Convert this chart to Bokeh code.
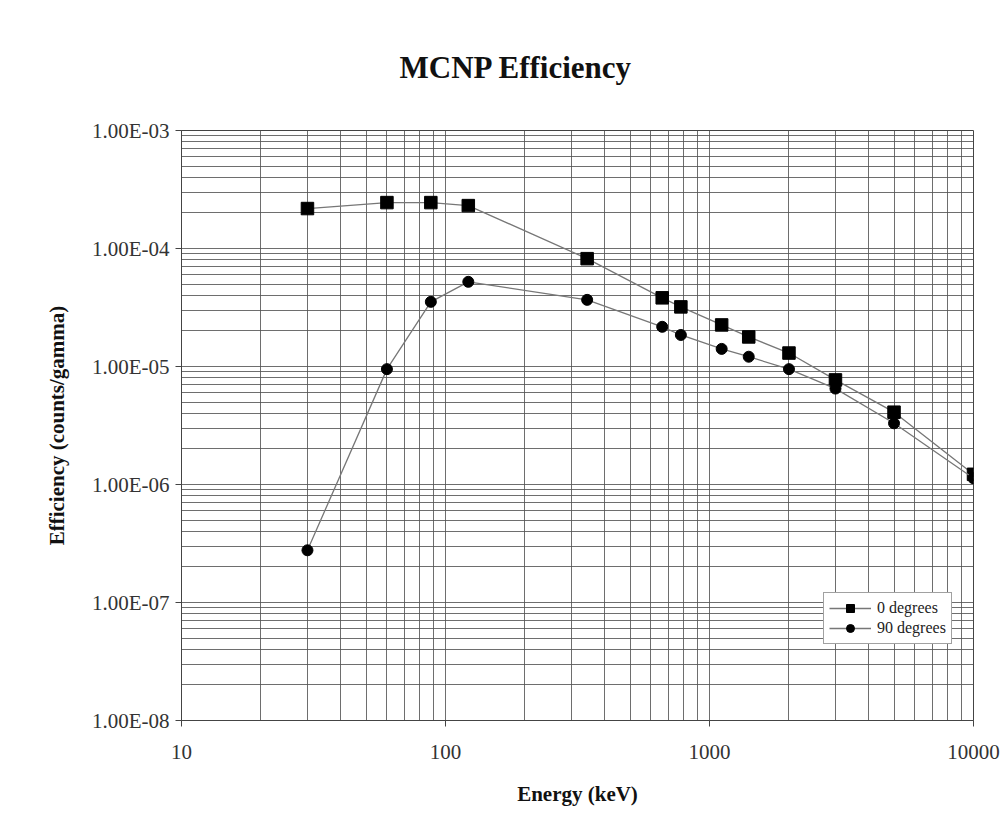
from bokeh.plotting import figure
from bokeh.models import (FixedTicker, CustomJSTickFormatter, Legend, LegendItem, Title)
from bokeh.embed import file_html
from bokeh.resources import INLINE

# ---- data ----
energy_kev = [30, 60, 88, 122, 344, 662, 779, 1112, 1408, 2000, 3000, 5000, 10000]
eff_0deg = [2.18e-4, 2.45e-4, 2.45e-4, 2.31e-4, 8.2e-5, 3.82e-5, 3.2e-5, 2.25e-5,
            1.78e-5, 1.30e-5, 7.7e-6, 4.1e-6, 1.22e-6]
eff_90deg = [2.77e-7, 9.5e-6, 3.53e-5, 5.22e-5, 3.67e-5, 2.17e-5, 1.85e-5, 1.41e-5,
             1.21e-5, 9.5e-6, 6.5e-6, 3.3e-6, 1.13e-6]

x_ticks = [10, 100, 1000, 10000]
x_tick_labels = ["10", "100", "1000", "10000"]
y_ticks = [1e-8, 1e-7, 1e-6, 1e-5, 1e-4, 1e-3]
y_tick_labels = ["1.00E-08", "1.00E-07", "1.00E-06", "1.00E-05", "1.00E-04", "1.00E-03"]

series_names = ["0 degrees", "90 degrees"]

SERIF = "Liberation Serif"

p = figure(
    x_axis_type="log", y_axis_type="log",
    x_range=(10, 10000), y_range=(1e-8, 1e-3),
    frame_width=792, frame_height=590,
    min_border_left=181, min_border_right=34,
    min_border_top=130, min_border_bottom=107,
    output_backend="svg", toolbar_location=None,
    background_fill_color="white", border_fill_color="white",
)

# title
t = Title(text="MCNP Efficiency", align="left", offset=218,
          text_font=SERIF, text_font_size="31px", text_font_style="bold",
          text_color="#111111", standoff=92)
p.title = t

# minor positions (2..9 per decade) for grids
def minors(lo_exp, hi_exp):
    out = []
    for e in range(lo_exp, hi_exp):
        for m in range(2, 10):
            out.append(m * 10.0 ** e)
    return out

x_ticker = FixedTicker(ticks=x_ticks, minor_ticks=minors(1, 4))
y_ticker = FixedTicker(ticks=y_ticks, minor_ticks=minors(-8, -3))

fmt_code = """
const i = tvals.findIndex(t => Math.abs(Math.log10(t) - Math.log10(tick)) < 1e-6);
return i >= 0 ? tlabels[i] : "";
"""
p.xaxis.ticker = x_ticker
p.yaxis.ticker = y_ticker
p.xgrid.ticker = x_ticker
p.ygrid.ticker = y_ticker
p.xaxis.formatter = CustomJSTickFormatter(args=dict(tvals=x_ticks, tlabels=x_tick_labels), code=fmt_code)
p.yaxis.formatter = CustomJSTickFormatter(args=dict(tvals=y_ticks, tlabels=y_tick_labels), code=fmt_code)

for ax in (p.xaxis, p.yaxis):
    ax.major_label_text_font = SERIF
    ax.major_label_text_font_size = "21px"
    ax.major_label_text_color = "#333333"
    ax.axis_label_text_font = SERIF
    ax.axis_label_text_font_size = "21px"
    ax.axis_label_text_font_style = "bold"
    ax.axis_label_text_color = "#111111"
    ax.axis_line_color = "#444444"
    ax.major_tick_line_color = "#444444"
    ax.major_tick_out = 6
    ax.major_tick_in = 0
    ax.minor_tick_out = 0
    ax.minor_tick_in = 0

p.xaxis.axis_label = "Energy (keV)"
p.yaxis.axis_label = "Efficiency (counts/gamma)"
p.xaxis.major_label_standoff = 18
p.yaxis.major_label_standoff = 6
p.xaxis.axis_label_standoff = 20
p.yaxis.axis_label_standoff = 20

for g in (p.xgrid, p.ygrid):
    g.grid_line_color = "#555555"
    g.grid_line_width = 1
    g.grid_line_alpha = 0.85
    g.minor_grid_line_color = "#555555"
    g.minor_grid_line_width = 1
    g.minor_grid_line_alpha = 0.85

p.outline_line_color = "#444444"

# series
l0 = p.line(energy_kev, eff_0deg, line_color="#777777", line_width=1.3)
s0 = p.scatter(energy_kev, eff_0deg, marker="square", size=12.5,
               fill_color="black", line_color="black")
l1 = p.line(energy_kev, eff_90deg, line_color="#777777", line_width=1.3)
s1 = p.scatter(energy_kev, eff_90deg, marker="circle", size=11,
               fill_color="black", line_color="black")

legend = Legend(
    items=[LegendItem(label=series_names[0], renderers=[l0, s0]),
           LegendItem(label=series_names[1], renderers=[l1, s1])],
    location=(642, 76),
    label_text_font=SERIF, label_text_font_size="16px", label_text_color="#222222",
    glyph_width=42, glyph_height=20, label_height=20, label_standoff=6,
    spacing=0, padding=5, margin=0,
    border_line_color="#444444", border_line_width=1,
    background_fill_color="white", background_fill_alpha=1.0,
)
p.add_layout(legend, "center")

open("out.html", "w").write(file_html(p, INLINE))
